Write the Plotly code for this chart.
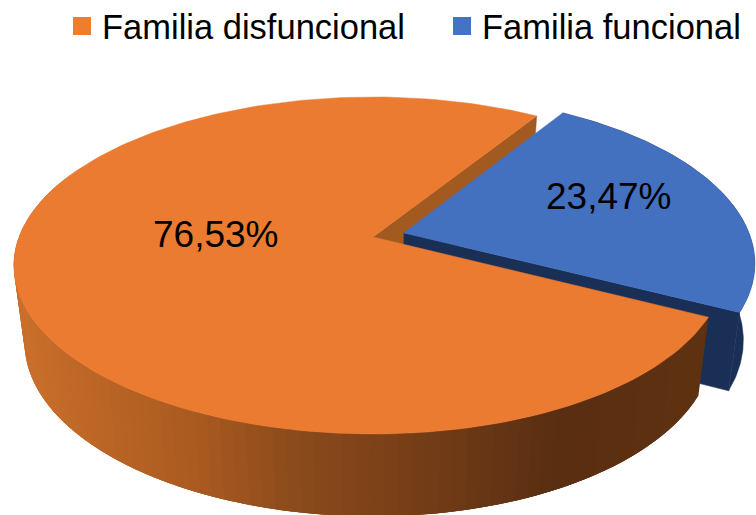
import numpy as np
import plotly.graph_objects as go

categories = ["Familia disfuncional", "Familia funcional"]
values = [76.53, 23.47]
labels = ["76,53%", "23,47%"]
top_colors = ["#EB7B30", "#4371C0"]
legend_colors = ["#ED7D31", "#4472C4"]

W, H = 756, 515
LIFT = 3  # the figure starts this many pixels above the window, so the legend sits high enough
CX, CY_TOP, CY_BOT = 373.0, 237.0, 313.0
A, B_TOP, B_BOT, K, L, S = 350.6, 163.7, 169.0, -0.169, 0.0096, 0.97
START_DEG = 32.4          # clockwise from 12 o'clock: where the blue slice begins
EXPLODE = (0.088, -0.025) # blue slice displacement in disc units

def project(u, v, bottom=False):
    dx = 1 + K * v + L * u
    dy = 1 + K * v
    if bottom:
        return CX + S * A * u / dx, CY_BOT + B_BOT * v / dy
    return CX + A * u / dx, CY_TOP + B_TOP * v / dy

def disc(th, r=1.0, off=(0, 0)):
    t = np.radians(th)
    return r * np.sin(t) + off[0], -r * np.cos(t) + off[1]

blue_span = values[1] / sum(values) * 360
blue_a, blue_b = START_DEG, START_DEG + blue_span
orange_a, orange_b = blue_b, START_DEG + 360

fig = go.Figure()

def poly(x, y, color, lw=0.5):
    fig.add_trace(go.Scatter(x=list(x), y=list(y), mode="lines", fill="toself",
                             fillcolor=color, line=dict(color=color, width=lw),
                             hoverinfo="skip", showlegend=False))

def sector(a, b, off=(0, 0), n=200):
    th = np.linspace(a, b, n)
    u, v = disc(th, off=off)
    u = np.concatenate([[off[0]], u, [off[0]]])
    v = np.concatenate([[off[1]], v, [off[1]]])
    return project(u, v)

def cut(th, off=(0, 0)):
    ux, vx = disc(th, off=off)
    p = [project(off[0], off[1]), project(ux, vx), project(ux, vx, True), project(off[0], off[1], True)]
    return [q[0] for q in p], [q[1] for q in p]

CUT_ORANGE = "#A35A20"
NAVY = "#1A2F55"
WALL_X = [25, 100, 200, 300, 400, 500, 560, 710]
WALL_R = [0xC9, 0xBB, 0xA9, 0x8A, 0x7A, 0x65, 0x5A, 0x5F]
WALL_G = [0x6F, 0x65, 0x5A, 0x4A, 0x40, 0x35, 0x2E, 0x32]
WALL_B = [0x2B, 0x26, 0x20, 0x1C, 0x18, 0x15, 0x11, 0x12]

# orange cut face seen through the notch
poly(*cut(orange_b), CUT_ORANGE)

# blue wall, cut faces, top
th = np.linspace(blue_a, blue_b, 120)
ub, vb = disc(th, off=EXPLODE)
tx, ty = project(ub, vb)
bx, by = project(ub, vb, True)
poly(np.r_[tx, bx[::-1]], np.r_[ty, by[::-1]], NAVY)
poly(*cut(blue_b, EXPLODE), NAVY)
poly(*sector(blue_a, blue_b, EXPLODE), top_colors[1])

# orange wall in overlapping strips for the gradient
edges = np.linspace(orange_a, 290, 91)
step = edges[1] - edges[0]
for a in edges[:-1]:
    th = np.linspace(a, a + 3 * step, 8)
    u, v = disc(th)
    tx, ty = project(u, v)
    bx, by = project(u, v, True)
    xm = project(*disc(a + step / 2))[0]
    c = "rgb(%d,%d,%d)" % (np.interp(xm, WALL_X, WALL_R), np.interp(xm, WALL_X, WALL_G), np.interp(xm, WALL_X, WALL_B))
    poly(np.r_[tx, bx[::-1]], np.r_[ty, by[::-1]], c, lw=0)

# orange top
poly(*sector(orange_a, orange_b), top_colors[0])

# legend entries, each in its own legend box
for i, (name, col) in enumerate(zip(categories, legend_colors)):
    fig.add_trace(go.Scatter(x=[None], y=[None], mode="markers", name=name,
                             legend="legend" if i == 0 else "legend2",
                             marker=dict(symbol="square", size=16, color=col,
                                         line=dict(color=col, width=2))))

# data labels
fig.add_annotation(x=216, y=234, text=labels[0], showarrow=False,
                   font=dict(family="Liberation Sans", size=37, color="#000000"))
fig.add_annotation(x=609, y=196, text=labels[1], showarrow=False,
                   font=dict(family="Liberation Sans", size=37, color="#000000"))

legend_font = dict(family="Liberation Sans", size=34.5, color="#000000")
fig.update_layout(
    width=W, height=H + LIFT, margin=dict(l=0, r=0, t=0, b=0), autosize=False,
    paper_bgcolor="white", plot_bgcolor="white",
    xaxis=dict(range=[0, W], visible=False, fixedrange=True),
    yaxis=dict(range=[H, -LIFT], visible=False, fixedrange=True),
    legend=dict(x=62 / W, xanchor="left", y=1, yanchor="top",
                font=legend_font, bgcolor="rgba(0,0,0,0)"),
    legend2=dict(x=442 / W, xanchor="left", y=1, yanchor="top",
                 font=legend_font, bgcolor="rgba(0,0,0,0)"),
)
fig.write_html("out.html", config={"displayModeBar": False},
               post_script="document.body.style.margin='0';document.body.style.marginTop='-%dpx';document.body.style.overflow='hidden';" % LIFT)
